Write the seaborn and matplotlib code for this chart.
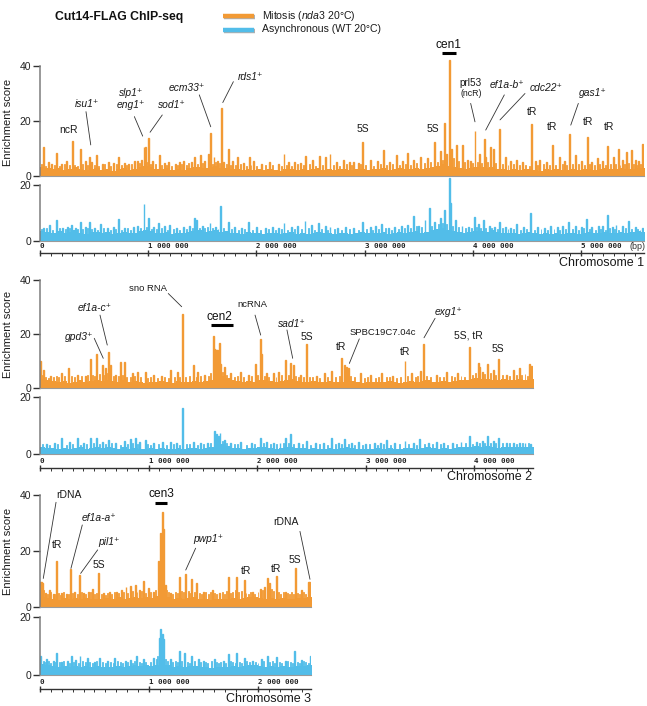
import numpy as np
import matplotlib
matplotlib.use("Agg")
import matplotlib.pyplot as plt
import matplotlib.patheffects as pe
from matplotlib.lines import Line2D
import seaborn as sns

sns.set_theme(style="white")
plt.rcParams["font.family"] = ["Liberation Sans", "DejaVu Sans"]
plt.rcParams["mathtext.fontset"] = "custom"
plt.rcParams["mathtext.rm"] = "Liberation Sans"
plt.rcParams["mathtext.it"] = "Liberation Sans:italic"

# ---------------------------------------------------------------- data
BIN_BP = 50000          # background bin size
chrom_len = [5.58e6, 4.54e6, 2.49e6]

# background enrichment, 50 kb bins
c1_mit_bg = [3.2, 2.8, 2.4, 2.9, 2.2, 2.6, 3.4, 2.5, 2.1, 2.7,
             2.9, 2.3, 2.6, 2.0, 2.4, 2.8, 2.2, 2.5, 3.1, 3.6,
             3.3, 2.7, 2.4, 2.9, 2.2, 2.6, 2.3, 2.8, 3.1, 3.4,
             2.9, 3.2, 3.5, 2.8, 3.0, 2.6, 2.4, 2.2, 2.7, 2.3,
             2.5, 2.1, 2.6, 2.3, 2.0, 2.4, 2.7, 2.2, 2.5, 2.1,
             2.6, 2.8, 2.3, 2.5, 2.2, 2.4, 2.6, 2.1, 2.5, 2.7,
             2.3, 2.6, 2.4, 2.9, 2.2, 2.5, 2.8, 2.4, 2.7, 3.0,
             2.6, 2.9, 3.4, 3.8, 4.2, 3.5, 3.1, 2.8, 2.6, 2.9,
             3.1, 3.3, 2.9, 3.4, 2.7, 2.5, 2.3, 2.6, 2.2, 2.4,
             2.7, 2.3, 2.0, 2.4, 2.2, 2.5, 2.1, 2.3, 2.6, 2.2,
             2.4, 2.7, 2.3, 2.5, 2.8, 2.4, 2.6, 2.9, 2.5, 2.7,
             3.0, 2.8]
c1_asy_bg = [3.6, 3.2, 2.9, 3.4, 2.7, 3.1, 3.8, 3.0, 2.6, 3.2,
             3.3, 2.8, 3.1, 2.5, 2.9, 3.2, 2.7, 3.0, 3.5, 3.9,
             3.4, 3.0, 2.8, 3.2, 2.6, 3.0, 2.7, 3.2, 3.6, 3.8,
             3.3, 3.5, 3.9, 3.2, 3.4, 3.0, 2.8, 2.6, 3.1, 2.7,
             2.9, 2.5, 3.0, 2.7, 2.4, 2.8, 3.1, 2.6, 2.9, 2.5,
             3.0, 3.2, 2.7, 2.9, 2.6, 2.8, 3.0, 2.5, 2.9, 3.1,
             2.7, 3.0, 2.8, 3.3, 2.6, 2.9, 3.2, 2.8, 3.1, 3.4,
             3.0, 3.3, 3.8, 4.2, 4.6, 3.9, 3.5, 3.2, 3.0, 3.3,
             3.5, 3.7, 3.3, 3.8, 3.1, 2.9, 2.7, 3.0, 2.6, 2.8,
             3.1, 2.7, 2.4, 2.8, 2.6, 2.9, 2.5, 2.7, 3.0, 2.6,
             2.8, 3.1, 2.7, 2.9, 3.2, 2.8, 3.0, 3.3, 2.9, 3.1,
             3.4, 3.2]
c2_mit_bg = [3.4, 2.8, 2.5, 2.2, 2.6, 2.0, 2.4, 2.8, 2.3, 2.6,
             2.9, 2.5, 3.1, 2.7, 2.4, 2.8, 2.2, 2.5, 2.3, 2.0,
             2.4, 2.1, 2.6, 2.3, 2.0, 2.5, 2.2, 2.4, 2.7, 2.3,
             2.6, 3.0, 4.2, 4.5, 3.6, 2.8, 2.5, 2.3, 2.6, 2.4,
             2.8, 3.0, 2.6, 2.3, 2.7, 2.9, 3.2, 2.7, 2.4, 2.2,
             2.5, 2.1, 2.3, 2.6, 2.2, 2.4, 2.8, 2.5, 2.2, 2.0,
             2.3, 2.1, 2.4, 2.2, 2.5, 2.3, 2.0, 2.4, 2.6, 2.2,
             2.5, 2.8, 2.4, 2.2, 2.6, 2.3, 2.5, 2.8, 3.1, 3.3,
             3.6, 3.2, 3.5, 3.0, 2.8, 3.2, 2.9, 3.1, 3.4, 3.0,
             3.3]
c2_asy_bg = [2.4, 2.2, 2.0, 1.8, 2.1, 1.7, 2.0, 2.3, 1.9, 2.2,
             2.4, 2.0, 2.5, 2.2, 1.9, 2.3, 1.8, 2.0, 1.9, 1.7,
             2.0, 1.8, 2.1, 1.9, 1.7, 2.1, 1.8, 2.0, 2.2, 1.9,
             2.1, 2.4, 3.2, 3.5, 2.8, 2.2, 2.0, 1.9, 2.1, 2.0,
             2.3, 2.4, 2.1, 1.9, 2.2, 2.4, 2.6, 2.2, 2.0, 1.8,
             2.0, 1.8, 1.9, 2.1, 1.8, 2.0, 2.3, 2.0, 1.8, 1.7,
             1.9, 1.8, 2.0, 1.8, 2.1, 1.9, 1.7, 2.0, 2.1, 1.8,
             2.0, 2.3, 2.0, 1.8, 2.1, 1.9, 2.0, 2.3, 2.5, 2.6,
             2.8, 2.5, 2.7, 2.4, 2.2, 2.5, 2.3, 2.4, 2.6, 2.4,
             2.5]
c3_mit_bg = [3.4, 3.2, 3.0, 2.6, 3.2, 2.8, 3.1, 2.7, 3.3, 2.9,
             3.0, 2.7, 3.1, 2.8, 3.4, 3.0, 3.2, 3.5, 3.3, 3.6,
             3.2, 3.8, 4.5, 3.4, 3.0, 3.3, 2.9, 3.1, 3.4, 3.0,
             2.8, 2.6, 2.9, 2.7, 3.0, 3.2, 2.8, 3.1, 3.4, 3.6,
             3.3, 3.0, 3.2, 2.9, 3.1, 2.8, 3.0, 3.3, 3.1, 3.4]
c3_asy_bg = [3.8, 3.3, 3.0, 2.8, 3.1, 2.7, 3.0, 2.9, 3.2, 2.8,
             3.0, 2.7, 2.9, 2.6, 3.1, 2.9, 3.0, 3.3, 3.1, 3.4,
             3.0, 3.6, 4.6, 3.3, 2.9, 3.1, 2.8, 3.0, 3.2, 2.9,
             2.7, 2.5, 2.8, 2.6, 2.9, 3.1, 2.7, 3.0, 3.3, 3.4,
             3.1, 2.9, 3.0, 2.8, 3.0, 2.7, 2.9, 3.2, 3.0, 3.6]

# peaks: (position kb, enrichment score)
c1_mit_peaks = [(31, 10.4), (80, 5.0), (110, 4.5), (154, 8.4), (200, 4.5), (245, 5.5), (299, 12.8),
                (370, 9.7), (420, 5.5), (456, 6.8), (480, 5.2), (524, 7.6), (580, 4.5), (630, 5.0),
                (680, 4.8), (724, 7.0), (780, 4.6), (820, 4.5), (870, 5.5), (900, 5.5), (940, 6.0),
                (961, 10.7), (976, 10.7), (1007, 13.9), (1040, 5.5), (1103, 7.6), (1150, 4.8),
                (1190, 5.0), (1250, 4.5), (1290, 5.2), (1330, 5.5), (1400, 5.0), (1432, 7.0),
                (1485, 7.6), (1520, 5.5), (1555, 8.0), (1578, 15.5), (1608, 7.0), (1640, 5.5),
                (1673, 24.6), (1700, 5.0), (1741, 10.0), (1780, 5.5), (1827, 6.8), (1880, 4.8),
                (1934, 6.8), (1970, 5.5), (2050, 4.5), (2120, 5.0), (2200, 4.5), (2255, 8.0),
                (2300, 5.2), (2350, 5.0), (2410, 4.8), (2458, 7.2), (2520, 6.0), (2581, 7.2),
                (2640, 7.0), (2680, 8.0), (2740, 5.0), (2803, 6.0), (2860, 5.0), (2900, 5.0),
                (2940, 4.8), (2982, 12.2), (3050, 6.0), (3120, 5.5), (3173, 9.5), (3230, 5.0),
                (3297, 7.6), (3350, 5.5), (3395, 8.2), (3450, 6.0), (3520, 7.0), (3580, 6.5),
                (3644, 12.2), (3697, 9.2), (3737, 19.2), (3760, 8.0), (3783, 42.2), (3800, 10.0),
                (3845, 11.3), (3903, 11.3), (3950, 6.0), (3980, 5.5), (4020, 16.5), (4060, 8.0),
                (4104, 13.3), (4120, 7.0), (4159, 10.7), (4190, 9.8), (4242, 17.1), (4300, 7.0),
                (4350, 5.5), (4400, 6.0), (4460, 5.0), (4544, 18.8), (4580, 5.5), (4620, 6.0),
                (4680, 5.0), (4735, 11.3), (4800, 7.0), (4850, 5.5), (4889, 15.2), (4950, 7.5),
                (5000, 5.5), (5058, 14.3), (5100, 5.0), (5150, 6.5), (5200, 5.5), (5243, 11.0),
                (5300, 7.0), (5345, 9.8), (5380, 6.0), (5416, 8.6), (5469, 9.5), (5500, 6.0),
                (5530, 5.5), (5568, 11.6)]
c1_asy_peaks = [(31, 4.5), (92, 5.7), (154, 7.5), (210, 4.5), (250, 5.0), (293, 5.7), (330, 4.8),
                (370, 6.9), (420, 5.0), (456, 6.7), (500, 4.6), (561, 6.0), (620, 4.5), (680, 5.0),
                (724, 7.7), (780, 4.8), (863, 4.9), (900, 5.2), (961, 13.1), (1007, 8.1), (1050, 5.0),
                (1094, 6.3), (1150, 5.2), (1201, 5.7), (1260, 4.8), (1330, 5.0), (1380, 5.5),
                (1426, 8.1), (1448, 7.5), (1500, 5.5), (1571, 6.5), (1620, 5.0), (1670, 12.6),
                (1741, 6.7), (1800, 5.0), (1860, 4.8), (1926, 6.7), (2000, 5.0), (2080, 4.6),
                (2150, 5.0), (2200, 4.8), (2255, 6.5), (2320, 5.0), (2380, 5.2), (2449, 7.3),
                (2511, 5.7), (2572, 6.3), (2634, 5.4), (2680, 5.1), (2750, 4.8), (2820, 5.0),
                (2893, 4.5), (2982, 6.9), (3050, 5.0), (3100, 5.2), (3158, 6.0), (3220, 4.8),
                (3280, 5.0), (3340, 5.4), (3400, 5.6), (3450, 8.9), (3500, 5.5), (3558, 7.5),
                (3598, 11.7), (3650, 6.9), (3703, 8.1), (3737, 11.1), (3780, 22.4), (3795, 13.5),
                (3836, 7.5), (3900, 5.5), (3960, 5.0), (4011, 8.7), (4050, 6.0), (4097, 7.5),
                (4150, 5.2), (4200, 5.0), (4245, 6.7), (4300, 5.0), (4350, 4.8), (4406, 6.0),
                (4470, 5.0), (4535, 10.1), (4600, 5.0), (4660, 4.8), (4720, 5.5), (4780, 5.0),
                (4830, 5.2), (4883, 6.9), (4950, 5.5), (5000, 5.0), (5053, 7.7), (5100, 5.0),
                (5160, 5.5), (5200, 5.2), (5243, 9.3), (5290, 5.0), (5323, 5.7), (5380, 5.4),
                (5437, 7.1), (5500, 5.0), (5568, 4.5)]
c2_mit_peaks = [(6, 10.1), (31, 6.7), (100, 4.5), (200, 5.4), (267, 7.3), (350, 5.0), (420, 4.5),
                (461, 10.6), (522, 12.6), (574, 8.5), (608, 7.3), (630, 13.5), (654, 8.5), (700, 5.0),
                (744, 9.5), (777, 9.5), (850, 5.5), (900, 6.0), (968, 6.0), (1050, 5.0), (1120, 4.5),
                (1207, 6.7), (1269, 5.8), (1312, 27.4), (1413, 8.5), (1450, 6.0), (1520, 5.0),
                (1600, 19.2), (1610, 14.5), (1620, 14.0), (1630, 14.2), (1640, 14.0), (1650, 16.5),
                (1665, 9.0), (1696, 7.9), (1760, 5.5), (1850, 6.0), (1920, 5.0), (1982, 8.8),
                (2028, 18.1), (2043, 12.5), (2089, 5.4), (2150, 5.5), (2200, 6.0), (2267, 10.4),
                (2313, 9.4), (2335, 8.5), (2400, 5.0), (2452, 16.3), (2550, 4.5), (2620, 5.5),
                (2688, 6.3), (2781, 11.2), (2805, 8.5), (2827, 7.9), (2842, 7.3), (2956, 5.4),
                (3050, 5.0), (3150, 5.5), (3250, 4.5), (3364, 10.0), (3420, 5.5), (3509, 6.3),
                (3533, 16.3), (3650, 5.0), (3750, 6.0), (3850, 5.5), (3954, 15.3), (4040, 9.1),
                (4055, 7.9), (4080, 6.0), (4123, 8.9), (4178, 6.7), (4230, 10.7), (4301, 4.8),
                (4362, 6.5), (4418, 7.3), (4510, 8.9), (4532, 8.3)]
c2_asy_peaks = [(60, 3.5), (130, 4.0), (200, 5.5), (270, 4.2), (344, 5.7), (400, 4.0), (461, 5.5),
                (522, 5.7), (574, 4.3), (630, 4.9), (700, 4.0), (783, 4.7), (830, 5.3), (876, 5.5),
                (920, 4.2), (968, 4.9), (1050, 4.0), (1130, 4.2), (1207, 4.3), (1260, 3.8),
                (1312, 16.3), (1413, 4.3), (1480, 4.0), (1540, 3.8), (1606, 8.2), (1628, 6.9),
                (1643, 6.4), (1659, 7.3), (1696, 4.9), (1760, 4.0), (1850, 4.2), (1950, 3.8),
                (2028, 5.5), (2089, 4.3), (2150, 4.0), (2212, 3.7), (2267, 5.5), (2313, 7.0),
                (2380, 4.0), (2458, 4.7), (2540, 3.8), (2610, 4.0), (2688, 5.5), (2750, 4.0),
                (2805, 5.3), (2870, 3.8), (2934, 4.3), (3000, 3.6), (3080, 4.0), (3140, 3.8),
                (3195, 4.9), (3270, 4.0), (3364, 4.6), (3440, 4.0), (3502, 5.3), (3580, 3.8),
                (3656, 4.3), (3720, 4.0), (3800, 3.8), (3880, 4.2), (3954, 6.4), (4025, 4.3),
                (4080, 4.5), (4123, 6.4), (4180, 4.5), (4224, 5.5), (4300, 4.0), (4362, 3.7),
                (4420, 3.8), (4470, 3.7), (4520, 3.6)]
c3_mit_peaks = [(4, 9.0), (14, 8.8), (24, 8.5), (50, 5.0), (85, 6.0), (120, 4.5), (153, 16.5),
                (200, 5.0), (240, 4.5), (281, 13.6), (320, 5.5), (360, 11.4), (400, 5.0), (443, 5.5),
                (480, 6.5), (539, 12.3), (580, 5.0), (642, 5.5), (700, 5.5), (750, 6.0), (789, 7.3),
                (826, 7.5), (872, 7.9), (910, 6.0), (948, 9.3), (994, 6.7), (1040, 5.5), (1085, 16.4),
                (1110, 26.3), (1122, 33.8), (1133, 28.0), (1150, 8.0), (1200, 5.0), (1278, 10.8),
                (1337, 11.8), (1392, 10.0), (1438, 8.5), (1500, 5.5), (1580, 6.0), (1650, 5.0),
                (1728, 10.6), (1805, 10.8), (1874, 9.6), (1950, 5.5), (2020, 6.5), (2060, 7.0),
                (2085, 10.2), (2104, 8.5), (2172, 11.1), (2250, 5.5), (2342, 14.0), (2400, 6.0),
                (2464, 8.8), (2474, 8.8), (2484, 8.6)]
c3_asy_peaks = [(6, 6.6), (61, 5.4), (120, 4.8), (153, 7.7), (200, 4.5), (250, 5.0), (291, 6.6),
                (330, 5.2), (367, 6.6), (434, 6.0), (500, 4.5), (550, 6.0), (620, 5.0), (688, 6.0),
                (780, 5.0), (830, 5.2), (887, 6.6), (950, 5.5), (1040, 6.0), (1094, 12.9),
                (1110, 15.7), (1122, 14.0), (1133, 12.3), (1200, 5.5), (1278, 8.3), (1330, 7.7),
                (1392, 6.6), (1450, 5.5), (1500, 5.0), (1600, 5.5), (1680, 5.0), (1728, 7.1),
                (1805, 7.7), (1874, 6.0), (1950, 5.0), (2030, 5.5), (2085, 6.6), (2172, 6.2),
                (2250, 5.0), (2339, 8.3), (2400, 5.2), (2484, 6.6)]

# small background spikes: (position kb, enrichment score)
c1_mit_minor = [(15, 4.2), (55, 3.8), (130, 4.0), (180, 3.6), (225, 4.4), (270, 3.9), (320, 4.1),
                (345, 3.7), (395, 4.5), (440, 3.9), (500, 4.0), (545, 3.6), (600, 4.2), (655, 3.8),
                (705, 4.3), (750, 3.9), (800, 4.0), (845, 4.4), (920, 4.6), (990, 5.0), (1020, 4.5),
                (1070, 4.2), (1125, 3.9), (1170, 4.1), (1215, 3.8), (1270, 4.0), (1310, 4.3),
                (1355, 3.9), (1375, 4.6), (1455, 4.2), (1500, 4.8), (1590, 4.5), (1625, 5.0),
                (1655, 4.6), (1720, 4.3), (1760, 4.0), (1805, 3.9), (1850, 4.2), (1905, 3.8),
                (1950, 4.0), (2000, 3.7), (2080, 3.9), (2150, 4.1), (2230, 3.8), (2280, 4.0),
                (2325, 3.7), (2380, 4.2), (2435, 3.9), (2490, 4.3), (2550, 3.8), (2610, 4.1),
                (2710, 4.0), (2770, 3.8), (2830, 4.2), (2880, 3.9), (2960, 4.4), (3010, 4.0),
                (3080, 3.8), (3150, 4.2), (3200, 3.9), (3260, 4.3), (3320, 4.0), (3375, 4.5),
                (3420, 4.1), (3480, 4.6), (3550, 4.8), (3610, 5.0), (3670, 5.2), (3720, 6.0),
                (3820, 6.5), (3870, 5.5), (3925, 5.0), (4000, 4.6), (4040, 5.0), (4080, 4.8),
                (4140, 5.2), (4210, 4.6), (4270, 4.4), (4325, 4.0), (4375, 4.2), (4430, 3.9),
                (4490, 4.1), (4520, 3.8), (4600, 4.0), (4650, 4.3), (4710, 3.9), (4760, 4.1),
                (4825, 4.4), (4870, 4.0), (4920, 4.5), (4975, 4.2), (5030, 4.0), (5080, 4.3),
                (5125, 3.9), (5175, 4.2), (5225, 4.0), (5270, 4.5), (5320, 4.2), (5360, 4.0),
                (5400, 4.4), (5440, 4.6), (5485, 4.3), (5515, 4.0), (5550, 4.4)]
c1_asy_minor = [(12, 4.3), (60, 4.6), (120, 4.1), (180, 4.5), (235, 4.2), (275, 4.6), (310, 4.0),
                (350, 4.4), (395, 4.2), (440, 4.8), (480, 4.3), (530, 4.1), (590, 4.5), (650, 4.0),
                (700, 4.4), (750, 4.1), (810, 4.5), (840, 4.0), (930, 4.6), (985, 5.0), (1030, 4.4),
                (1075, 4.2), (1120, 4.5), (1175, 4.1), (1230, 4.4), (1290, 4.0), (1355, 4.3),
                (1405, 4.6), (1470, 4.8), (1520, 4.5), (1545, 5.0), (1595, 4.6), (1645, 4.4),
                (1700, 4.8), (1770, 4.2), (1830, 4.0), (1890, 4.3), (1960, 4.1), (2040, 3.9),
                (2110, 4.2), (2180, 4.0), (2230, 4.3), (2290, 4.1), (2350, 4.4), (2420, 4.2),
                (2480, 4.5), (2540, 4.1), (2600, 4.3), (2660, 4.0), (2720, 4.2), (2790, 4.0),
                (2860, 4.3), (2940, 4.1), (3020, 4.4), (3075, 4.0), (3130, 4.2), (3190, 4.5),
                (3250, 4.1), (3310, 4.4), (3370, 4.6), (3420, 4.8), (3475, 5.2), (3530, 5.0),
                (3620, 5.5), (3680, 6.0), (3720, 6.5), (3760, 6.0), (3815, 5.5), (3870, 5.0),
                (3930, 4.6), (3985, 4.8), (4030, 5.0), (4075, 4.6), (4120, 4.8), (4175, 4.5),
                (4225, 4.3), (4270, 4.6), (4325, 4.2), (4380, 4.4), (4440, 4.1), (4500, 4.3),
                (4570, 4.0), (4630, 4.2), (4690, 4.0), (4750, 4.3), (4805, 4.1), (4860, 4.4),
                (4920, 4.2), (4975, 4.0), (5025, 4.5), (5075, 4.2), (5130, 4.0), (5180, 4.4),
                (5225, 4.1), (5265, 4.5), (5310, 4.2), (5350, 4.0), (5410, 4.6), (5465, 4.2),
                (5520, 4.4), (5545, 4.0)]
c2_mit_minor = [(18, 5.0), (55, 4.2), (80, 3.8), (125, 4.0), (150, 4.5), (175, 3.9), (230, 4.3),
                (290, 4.6), (320, 4.0), (380, 4.4), (440, 4.8), (480, 5.0), (500, 4.6), (545, 5.2),
                (590, 4.8), (620, 5.5), (680, 4.4), (720, 4.6), (760, 5.0), (800, 4.2), (830, 4.0),
                (875, 4.5), (930, 4.1), (990, 3.8), (1020, 4.0), (1080, 3.7), (1150, 4.0),
                (1180, 3.8), (1240, 4.2), (1290, 3.9), (1340, 4.1), (1380, 4.4), (1440, 4.0),
                (1480, 4.3), (1550, 4.6), (1575, 5.5), (1680, 6.0), (1720, 5.0), (1790, 4.2),
                (1820, 4.5), (1880, 4.0), (1950, 4.6), (2005, 4.8), (2065, 4.4), (2110, 4.0),
                (2175, 4.2), (2230, 4.8), (2290, 5.0), (2355, 4.5), (2380, 4.0), (2430, 4.2),
                (2480, 3.9), (2510, 4.1), (2580, 3.8), (2650, 4.2), (2720, 4.0), (2760, 4.5),
                (2865, 4.3), (2900, 3.9), (2990, 3.8), (3020, 4.0), (3090, 3.7), (3120, 4.1),
                (3190, 3.9), (3220, 4.2), (3290, 3.8), (3320, 4.0), (3390, 4.3), (3460, 4.0),
                (3480, 4.4), (3560, 4.6), (3600, 4.0), (3680, 4.2), (3720, 3.9), (3790, 4.3),
                (3820, 4.0), (3880, 4.6), (3910, 4.2), (3990, 5.0), (4010, 5.5), (4100, 5.2),
                (4150, 5.6), (4200, 4.8), (4260, 5.0), (4330, 4.6), (4390, 5.0), (4440, 4.8),
                (4470, 5.2), (4490, 4.5)]
c2_asy_minor = [(20, 3.4), (90, 3.2), (160, 3.5), (240, 3.3), (300, 3.6), (370, 3.2), (430, 3.5),
                (490, 3.8), (550, 3.6), (600, 3.4), (660, 3.7), (740, 3.3), (810, 3.5), (850, 3.8),
                (900, 3.4), (990, 3.6), (1020, 3.2), (1090, 3.4), (1170, 3.3), (1230, 3.5),
                (1290, 3.2), (1350, 3.4), (1380, 3.6), (1450, 3.3), (1510, 3.5), (1570, 4.0),
                (1680, 4.5), (1720, 3.8), (1790, 3.4), (1820, 3.6), (1900, 3.3), (1980, 3.5),
                (2060, 3.7), (2120, 3.4), (2180, 3.5), (2240, 3.8), (2290, 4.0), (2340, 3.6),
                (2420, 3.4), (2490, 3.3), (2580, 3.5), (2650, 3.2), (2720, 3.6), (2780, 3.4),
                (2840, 3.6), (2900, 3.3), (2970, 3.2), (3040, 3.4), (3110, 3.2), (3170, 3.5),
                (3230, 3.3), (3310, 3.4), (3400, 3.6), (3470, 3.3), (3540, 3.5), (3620, 3.4),
                (3690, 3.6), (3760, 3.3), (3840, 3.5), (3920, 3.8), (3990, 3.6), (4050, 3.9),
                (4100, 4.0), (4150, 3.8), (4200, 4.0), (4260, 3.7), (4330, 3.8), (4390, 3.6),
                (4450, 3.9), (4500, 3.7)]
c3_mit_minor = [(35, 6.0), (65, 4.8), (100, 5.2), (135, 4.6), (170, 5.0), (185, 4.4), (215, 5.2),
                (260, 4.8), (300, 5.0), (340, 4.6), (380, 5.4), (420, 4.8), (460, 5.2), (500, 4.6),
                (520, 5.0), (560, 4.8), (600, 4.4), (620, 5.0), (660, 4.6), (680, 5.2), (720, 5.0),
                (770, 5.4), (805, 5.0), (850, 5.6), (890, 5.2), (930, 5.8), (970, 5.0), (1015, 5.4),
                (1060, 6.0), (1098, 7.0), (1165, 6.0), (1180, 5.2), (1220, 4.8), (1240, 5.4),
                (1260, 5.0), (1300, 5.6), (1320, 5.2), (1360, 5.8), (1375, 5.0), (1415, 5.4),
                (1460, 5.0), (1480, 4.6), (1520, 5.2), (1545, 4.8), (1560, 5.4), (1600, 5.0),
                (1620, 4.6), (1670, 5.2), (1690, 4.8), (1710, 5.6), (1750, 5.0), (1770, 5.4),
                (1790, 6.0), (1825, 5.2), (1850, 5.6), (1890, 5.0), (1910, 4.6), (1930, 5.2),
                (1970, 4.8), (2000, 5.4), (2040, 6.0), (2120, 6.4), (2140, 5.6), (2190, 5.2),
                (2210, 4.8), (2230, 5.4), (2270, 5.0), (2290, 4.6), (2310, 5.2), (2325, 4.8),
                (2360, 5.0), (2380, 4.6), (2420, 5.2), (2440, 4.8)]
c3_asy_minor = [(30, 5.0), (45, 4.4), (80, 4.8), (100, 4.2), (135, 4.6), (175, 4.4), (220, 4.8),
                (270, 4.2), (310, 4.6), (350, 4.2), (390, 4.8), (415, 4.4), (455, 4.6), (480, 4.2),
                (520, 4.8), (575, 4.4), (600, 4.2), (650, 4.6), (670, 4.2), (710, 4.8), (740, 4.4),
                (760, 4.0), (805, 4.6), (850, 4.2), (870, 4.8), (910, 4.4), (930, 4.0), (970, 4.6),
                (1010, 4.4), (1065, 5.5), (1080, 6.5), (1150, 5.5), (1170, 4.8), (1220, 4.4),
                (1240, 4.8), (1260, 4.4), (1300, 5.0), (1350, 4.6), (1370, 4.2), (1415, 4.8),
                (1470, 4.4), (1520, 4.6), (1540, 4.2), (1570, 4.8), (1620, 4.4), (1640, 4.0),
                (1660, 4.6), (1700, 4.2), (1750, 4.8), (1770, 4.4), (1790, 4.0), (1830, 4.6),
                (1850, 4.2), (1895, 4.8), (1920, 4.4), (1975, 4.6), (2000, 4.2), (2050, 4.8),
                (2105, 4.4), (2130, 4.8), (2150, 4.2), (2200, 4.6), (2220, 4.2), (2275, 4.8),
                (2300, 4.4), (2320, 4.0), (2360, 4.6), (2380, 4.2), (2420, 4.8), (2440, 4.4),
                (2460, 4.2)]

# annotations: (text, x kb, y score, italic gene name, font size, leader (x1 kb, y1, x2 kb, y2))
c1_notes = [("ncR", 268, 16.7, False, 7.5, None),
            ("isu1", 432, 26.2, True, 7.4, (425, 23.4, 469, 11.3)),
            ("slp1", 841, 30.3, True, 7.4, None),
            ("eng1", 841, 25.8, True, 7.4, (872, 21.6, 949, 14.5)),
            ("sod1", 1217, 25.8, True, 7.4, (1130, 22.2, 1017, 15.9)),
            ("ecm33", 1356, 32.1, True, 7.4, (1472, 29.5, 1578, 17.9)),
            ("rds1", 1948, 36.1, True, 7.4, (1787, 34.3, 1689, 26.7)),
            ("5S", 2982, 17.0, False, 7.5, None),
            ("5S", 3635, 17.0, False, 7.5, None),
            ("prl53", 3981, 34.0, False, 7.2, None),
            ("(ncR)", 3981, 30.0, False, 6.3, (3980, 26.4, 4020, 19.7)),
            ("ef1a-b", 4313, 33.0, True, 7.4, (4291, 29.5, 4119, 16.7)),
            ("cdc22", 4675, 31.9, True, 7.4, (4482, 30.0, 4251, 20.4)),
            ("tR", 4550, 23.2, False, 7.5, None),
            ("tR", 4735, 18.0, False, 7.5, None),
            ("gas1", 5106, 30.0, True, 7.4, (4975, 26.4, 4905, 18.5)),
            ("tR", 5062, 19.7, False, 7.5, None),
            ("tR", 5256, 18.0, False, 7.5, None)]
c2_notes = [("gpd3", 361, 19.0, True, 7.4, (500, 18.4, 583, 11.0)),
            ("ef1a-c", 500, 29.7, True, 7.4, (553, 27.0, 620, 15.9)),
            ("sno RNA", 991, 36.7, False, 6.8, (1182, 35.0, 1306, 30.1)),
            ("ncRNA", 1957, 31.0, False, 6.8, (1982, 27.0, 2034, 19.6)),
            ("sad1", 2318, 23.7, True, 7.4, (2276, 21.5, 2329, 11.0)),
            ("5S", 2458, 19.0, False, 7.5, None),
            ("tR", 2774, 15.3, False, 7.5, None),
            ("SPBC19C7.04c", 3157, 20.5, False, 6.8, (2943, 18.2, 2851, 9.1)),
            ("tR", 3364, 13.2, False, 7.5, None),
            ("exg1", 3763, 28.3, True, 7.4, (3641, 25.8, 3539, 18.6)),
            ("5S, tR", 3947, 19.6, False, 7.5, None),
            ("5S", 4224, 14.4, False, 7.5, None)]
c3_notes = [("rDNA", 268, 40.0, False, 7.5, (147, 37.4, 30, 10.2)),
            ("tR", 159, 22.1, False, 7.5, None),
            ("ef1a-a", 539, 31.7, True, 7.4, (388, 29.3, 284, 13.8)),
            ("pil1", 631, 23.1, True, 7.4, (529, 20.4, 373, 12.0)),
            ("5S", 541, 15.0, False, 7.5, None),
            ("pwp1", 1544, 24.2, True, 7.4, (1428, 21.0, 1337, 13.2)),
            ("tR", 1887, 13.0, False, 7.5, None),
            ("tR", 2165, 13.5, False, 7.5, None),
            ("5S", 2339, 16.8, False, 7.5, None),
            ("rDNA", 2257, 30.5, False, 7.5, (2385, 27.0, 2477, 9.9))]
# centromere: (label, label x kb, label y, bar start kb, bar end kb, bar y)
c1_cen = ("cen1", 3777, 47.6, 3713, 3842, 44.6)
c2_cen = ("cen2", 1653, 26.4, 1573, 1782, 23.3)
c3_cen = ("cen3", 1117, 40.4, 1055, 1168, 37.0)

series_names = ["Mitosis ($\\mathit{nda3}$ 20°C)", "Asynchronous (WT 20°C)"]
chrom_names = ["Chromosome 1", "Chromosome 2", "Chromosome 3"]

# ---------------------------------------------------------------- style
ORANGE = "#F29A35"
BLUE = "#52BDE9"
W, H = 647, 706
PEAK_W = 9000

fig = plt.figure(figsize=(W / 100, H / 100), dpi=100)


def add_ax(left, top, right, bottom):
    return fig.add_axes([left / W, 1 - bottom / H, (right - left) / W, (bottom - top) / H])


def spikes(ax, peaks, color, lw):
    pos = np.array([p for p, v in peaks], float) * 1000
    val = np.array([v for p, v in peaks], float)
    pedges = np.column_stack([pos - PEAK_W / 2, pos + PEAK_W / 2]).ravel()
    sns.histplot(x=pos, weights=val, bins=pedges.tolist(), element="bars", fill=True,
                 color=color, alpha=1, linewidth=lw, edgecolor=color, ax=ax)


def draw_track(ax, bg, minor, peaks, color, L, ymax, yticks):
    bg = np.asarray(bg, float)
    edges = np.arange(len(bg) + 1) * BIN_BP
    centers = edges[:-1] + BIN_BP / 2
    sns.histplot(x=centers, weights=bg, bins=edges.tolist(), element="step", fill=True,
                 color=color, alpha=1, linewidth=0, ax=ax)
    spikes(ax, minor, color, 0.6)
    spikes(ax, peaks, color, 1.0)
    ax.set_xlim(0, L)
    ax.set_ylim(0, ymax)
    ax.set_xlabel("")
    ax.set_ylabel("")
    ax.spines["top"].set_visible(False)
    ax.spines["right"].set_visible(False)
    ax.spines["left"].set_bounds(0, yticks[-1])
    ax.spines["left"].set_color("#7d7d7d")
    ax.spines["left"].set_linewidth(1.1)
    ax.spines["bottom"].set_color("#9a9a9a")
    ax.spines["bottom"].set_linewidth(0.8)
    ax.set_xticks([])
    ax.set_yticks(yticks)
    ax.set_yticklabels([str(t) for t in yticks])
    ax.tick_params(axis="y", left=True, length=5, width=1, color="#333333",
                   labelsize=7.5, pad=1.5, labelcolor="#222222")
    ax.patch.set_alpha(0)


def draw_ruler(ax, L):
    ax.set_xlim(0, L)
    ax.set_ylim(0, 1)
    for s in ["left", "right", "bottom"]:
        ax.spines[s].set_visible(False)
    ax.spines["top"].set_color("#333333")
    ax.spines["top"].set_linewidth(1.0)
    ax.xaxis.tick_top()
    ticks = np.arange(0, L, 1e6)
    ax.set_xticks(ticks)
    ax.set_xticklabels([f"{int(t):,}".replace(",", " ") for t in ticks])
    ax.set_xticks(np.arange(0, L, 1e5), minor=True)
    ax.tick_params(axis="x", which="major", top=True, bottom=False, direction="inout",
                   length=4, width=1, color="#333333", pad=0.8, labelsize=5.4,
                   labelcolor="#222222")
    ax.tick_params(axis="x", which="minor", top=True, bottom=False, direction="in",
                   length=2, width=0.7, color="#333333")
    plt.setp(ax.get_xticklabels(), ha="left", fontweight="bold", family="DejaVu Sans Mono")
    ax.set_yticks([])
    ax.patch.set_alpha(0)


def draw_notes(ax, notes, cen):
    for text, tx, ty, italic, size, leader in notes:
        label = text + "\u207a" if italic else text
        ax.text(tx * 1000, ty, label, ha="center", va="center", fontsize=size,
                style="italic" if italic else "normal", color="#1a1a1a", clip_on=False)
        if leader is not None:
            x1, y1, x2, y2 = leader
            ax.annotate("", xy=(x2 * 1000, y2), xytext=(x1 * 1000, y1),
                        arrowprops=dict(arrowstyle="-", color="#333333", lw=0.6,
                                        shrinkA=0, shrinkB=0), annotation_clip=False)
    name, lx, ly, s, e, by = cen
    ax.text(lx * 1000, ly, name, ha="center", va="center", fontsize=8.6, color="#111111",
            clip_on=False)
    ax.plot([s * 1000, e * 1000], [by, by], color="black", lw=2.2,
            solid_capstyle="butt", clip_on=False)


# layout per chromosome (pixels)
layout = [
    dict(right=643.8, o_bot=176, o_ppu=2.75, o_max=46, b_bot=241, b_ppu=2.8, b_max=23,
         ruler=253, lab_y=263, ylab_y=122),
    dict(right=532.6, o_bot=388, o_ppu=2.7, o_max=42, b_bot=454, b_ppu=2.85, b_max=20,
         ruler=468, lab_y=477, ylab_y=334),
    dict(right=311.4, o_bot=607, o_ppu=2.8, o_max=42, b_bot=675, b_ppu=2.9, b_max=20,
         ruler=688.5, lab_y=699, ylab_y=551),
]
mit_bg = [c1_mit_bg, c2_mit_bg, c3_mit_bg]
asy_bg = [c1_asy_bg, c2_asy_bg, c3_asy_bg]
mit_minor = [c1_mit_minor, c2_mit_minor, c3_mit_minor]
asy_minor = [c1_asy_minor, c2_asy_minor, c3_asy_minor]
mit_pk = [c1_mit_peaks, c2_mit_peaks, c3_mit_peaks]
asy_pk = [c1_asy_peaks, c2_asy_peaks, c3_asy_peaks]
notes = [c1_notes, c2_notes, c3_notes]
cens = [c1_cen, c2_cen, c3_cen]

for i, lay in enumerate(layout):
    L = chrom_len[i]
    ax_o = add_ax(40, lay["o_bot"] - lay["o_max"] * lay["o_ppu"], lay["right"], lay["o_bot"])
    draw_track(ax_o, mit_bg[i], mit_minor[i], mit_pk[i], ORANGE, L, lay["o_max"], [0, 20, 40])
    draw_notes(ax_o, notes[i], cens[i])
    ax_b = add_ax(40, lay["b_bot"] - lay["b_max"] * lay["b_ppu"], lay["right"], lay["b_bot"])
    draw_track(ax_b, asy_bg[i], asy_minor[i], asy_pk[i], BLUE, L, lay["b_max"], [0, 20])
    ax_r = add_ax(40, lay["ruler"], lay["right"], lay["ruler"] + 4)
    draw_ruler(ax_r, L)
    fig.text(lay["right"] / W, 1 - lay["lab_y"] / H, chrom_names[i], ha="right", va="center",
             fontsize=9, color="#1a1a1a")
    fig.text(8 / W, 1 - lay["ylab_y"] / H, "Enrichment score", rotation=90, ha="center",
             va="center", fontsize=8, color="#1a1a1a")

fig.text(645 / W, 1 - 246.5 / H, "(bp)", ha="right", va="center", fontsize=6.5, color="#333333")

# title and legend
fig.text(119 / W, 1 - 17 / H, "Cut14-FLAG ChIP-seq", ha="center", va="center",
         fontsize=8.8, fontweight="bold", color="#111111")
for y_px, col, name in [(16, ORANGE, series_names[0]), (29.5, BLUE, series_names[1])]:
    fig.add_artist(Line2D([223 / W, 254 / W], [1 - y_px / H, 1 - y_px / H],
                          transform=fig.transFigure, color=col, lw=3.2, solid_capstyle="butt",
                          path_effects=[pe.SimpleLineShadow(offset=(0.4, -0.8), alpha=0.35),
                                        pe.Normal()]))
    fig.text(262 / W, 1 - y_px / H, name, ha="left", va="center", fontsize=7.6,
             color="#1a1a1a")

fig.savefig("out.png", dpi=100)
